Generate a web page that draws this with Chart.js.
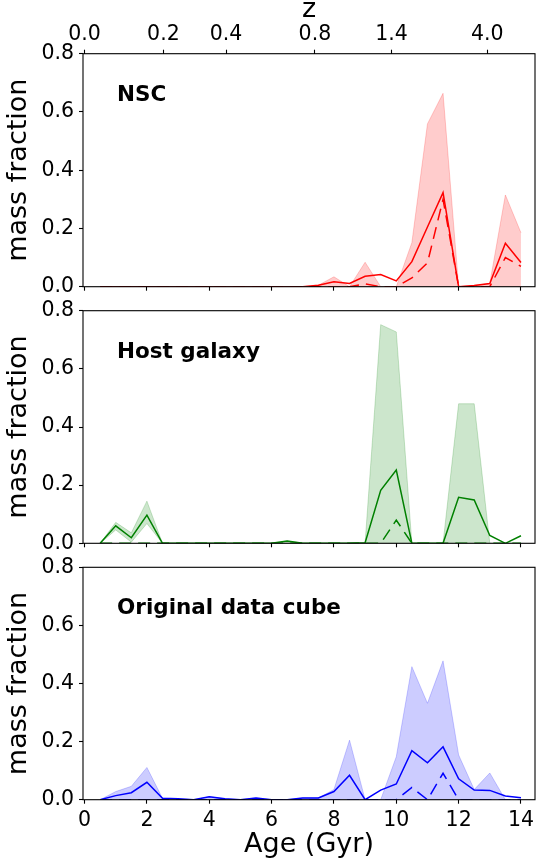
<!DOCTYPE html>
<html>
<head>
<meta charset="utf-8">
<script src="https://cdn.jsdelivr.net/npm/chart.js@4.4.0/dist/chart.umd.min.js"></script>
<style>
  html, body { margin: 0; padding: 0; background: #fff; }
  #wrap { position: relative; width: 536px; height: 865px; overflow: hidden; background: #fff; }
  canvas { position: absolute; left: 0; }
</style>
</head>
<body>
<div id="wrap">
  <canvas id="cNsc"></canvas>
  <canvas id="cHost"></canvas>
  <canvas id="cCube"></canvas>
</div>
<script>
// Stellar age bins (Gyr)
const ages = [0.5, 1.0, 1.5, 2.0, 2.5, 3.0, 3.5, 4.0, 4.5, 5.0, 5.5, 6.0, 6.5, 7.0,
              7.5, 8.0, 8.5, 9.0, 9.5, 10.0, 10.5, 11.0, 11.5, 12.0, 12.5, 13.0, 13.5, 14.0];

// Bottom axis ticks (Gyr), redshift ticks on the top axis, mass-fraction ticks
const ageTicks = [0, 2, 4, 6, 8, 10, 12, 14];
const zTickAges = [0, 2.53, 4.54, 7.39, 9.85, 12.92];
const zTickLabels = ['0.0', '0.2', '0.4', '0.8', '1.4', '4.0'];
const fracTicks = [0, 0.2, 0.4, 0.6, 0.8];

// NSC: best fit, second solution (dashed), and the spread band
const nscMain   = [0,0,0,0,0,0,0,0,0,0,0,0,0,0, 0.005,0.017,0.011,0.036,0.042,0.020,0.086,0.205,0.323,0,0.004,0.011,0.149,0.083];
const nscDashed = [0,0,0,0,0,0,0,0,0,0,0,0,0,0, 0,0,0,0.010,0,0,0.030,0.082,0.300,0,0,0,0.100,0.070];
const nscLow    = [0,0,0,0,0,0,0,0,0,0,0,0,0,0, 0,0,0,0,0,0,0,0,0,0,0,0,0,0];
const nscHigh   = [0,0,0,0,0,0,0,0,0,0,0,0,0,0, 0.005,0.034,0,0.084,0,0,0.151,0.559,0.664,0,0.004,0.011,0.315,0.185];

// Host galaxy
const hostMain   = [0,0.060,0.019,0.097,0,0,0,0,0,0,0,0,0.008,0, 0,0,0,0.002,0.182,0.252,0,0,0,0.158,0.149,0.027,0,0.026];
const hostDashed = [0,0,0,0,0,0,0,0,0,0,0,0,0,0, 0,0,0,0,0,0.080,0,0,0,0,0,0,0,0];
const hostLow    = [0,0.046,0.004,0.068,0,0,0,0,0,0,0,0,0,0, 0,0,0,0,0,0,0,0,0,0,0,0,0,0];
const hostHigh   = [0,0.072,0.036,0.145,0,0,0,0,0,0,0,0,0.008,0, 0,0,0,0.002,0.752,0.727,0,0,0,0.480,0.480,0,0,0];

// Original data cube
const cubeMain   = [0,0.014,0.024,0.060,0.005,0.003,0,0.010,0.003,0,0.006,0,0,0.006, 0.006,0.028,0.084,0,0.033,0.054,0.169,0.127,0.182,0.072,0.033,0.032,0.013,0.007];
const cubeDashed = [0,0,0,0,0,0,0,0,0,0,0,0,0,0, 0,0,0,0,0,0,0.042,0,0.091,0,0,0,0,0];
const cubeLow    = [0,0,0,0,0,0,0,0,0,0,0,0,0,0, 0,0,0,0,0,0,0,0,0,0,0,0,0,0];
const cubeHigh   = [0,0.028,0.046,0.111,0.005,0.003,0,0.010,0.003,0,0.006,0,0,0.006, 0.006,0.035,0.205,0,0,0.148,0.458,0.332,0.478,0.154,0.035,0.092,0,0];

const FONT = 'DejaVu Sans';
const X_MIN = -0.05, X_MAX = 14.45;
const Y_AXIS_W = 83;

function pts(vals) { return ages.map((a, i) => ({ x: a, y: vals[i] })); }

// Frame around the plot area plus the panel name in its upper-left corner
const panelDecor = {
  id: 'panelDecor',
  afterDraw(chart, args, opts) {
    const { ctx, chartArea: a } = chart;
    ctx.save();
    ctx.strokeStyle = '#000';
    ctx.lineWidth = 1.1;
    ctx.strokeRect(a.left, a.top, a.right - a.left, a.bottom - a.top);
    ctx.fillStyle = '#000';
    ctx.font = 'bold 21.5px "' + FONT + '"';
    ctx.textBaseline = 'alphabetic';
    ctx.textAlign = 'left';
    ctx.fillText(opts.label, a.left + 34, a.top + 47);
    ctx.restore();
  }
};

function makePanel(p) {
  const cv = document.getElementById(p.id);
  cv.width = 536;
  cv.height = p.h;
  cv.style.top = p.top + 'px';
  const areaTop = p.areaTop, areaBottom = p.areaBottom;

  const tickMarks = { display: true, drawOnChartArea: false, drawTicks: true, tickLength: 4, tickColor: '#000', tickWidth: 1.1 };

  const scales = {
    x: {
      type: 'linear', position: 'bottom', min: X_MIN, max: X_MAX,
      afterBuildTicks: s => { s.ticks = ageTicks.map(v => ({ value: v })); },
      afterFit: s => { s.height = p.h - areaBottom; },
      border: { display: false },
      grid: tickMarks,
      ticks: { display: p.showAgeLabels, autoSkip: false, maxRotation: 0, padding: 1, color: '#000',
               font: { family: FONT, size: 20.5, lineHeight: 1.59 }, callback: v => String(v) },
      title: { display: p.showAgeLabels, text: 'Age (Gyr)', color: '#000',
               font: { family: FONT, size: 27 }, padding: { top: 0, bottom: 4 } }
    },
    y: {
      type: 'linear', position: 'left', min: 0, max: 0.8,
      afterBuildTicks: s => { s.ticks = fracTicks.map(v => ({ value: v })); },
      afterFit: s => { s.width = Y_AXIS_W; },
      border: { display: false },
      grid: tickMarks,
      ticks: { autoSkip: false, padding: 5, color: '#000', font: { family: FONT, size: 20.5 },
               callback: v => v.toFixed(1) },
      title: { display: true, text: 'mass fraction', color: '#000',
               font: { family: FONT, size: 27 }, padding: { top: 2.5, bottom: 0 } }
    }
  };

  if (p.showRedshift) {
    scales.x2 = {
      type: 'linear', position: 'top', min: X_MIN, max: X_MAX,
      afterBuildTicks: s => { s.ticks = zTickAges.map(v => ({ value: v })); },
      afterFit: s => { s.height = areaTop; },
      border: { display: false },
      grid: tickMarks,
      ticks: { autoSkip: false, maxRotation: 0, padding: 3, color: '#000',
               font: { family: FONT, size: 20.5 }, callback: (v, i) => zTickLabels[i] },
      title: { display: true, text: 'z', color: '#000',
               font: { family: FONT, size: 27, lineHeight: 0.7 }, padding: { top: 0.5, bottom: 0 } }
    };
  }

  return new Chart(cv, {
    type: 'line',
    data: {
      datasets: [
        { data: pts(p.main), borderColor: p.color, borderWidth: 1.5, fill: false, order: 0 },
        { data: pts(p.dashed), borderColor: p.color, borderWidth: 1.5, borderDash: [12, 7], fill: false, order: 0 },
        { data: pts(p.low), borderColor: p.band, borderWidth: 1, fill: false, order: 1 },
        { data: pts(p.high), borderColor: p.band, borderWidth: 1, backgroundColor: p.band, fill: 2, order: 1 }
      ]
    },
    options: {
      responsive: false,
      animation: false,
      events: [],
      elements: { point: { radius: 0 }, line: { tension: 0 } },
      layout: { padding: { top: p.showRedshift ? 0 : areaTop, left: 0, right: 1, bottom: 0 } },
      plugins: { legend: { display: false }, tooltip: { enabled: false }, panelDecor: { label: p.label } },
      scales
    },
    plugins: [panelDecor]
  });
}

makePanel({ id: 'cNsc', top: 0, h: 312, areaTop: 53.7, areaBottom: 286.7,
  label: 'NSC', color: '#ff0000', band: 'rgba(255,0,0,0.2)',
  main: nscMain, dashed: nscDashed, low: nscLow, high: nscHigh,
  showRedshift: true, showAgeLabels: false });

makePanel({ id: 'cHost', top: 280, h: 290, areaTop: 30.7, areaBottom: 263.3,
  label: 'Host galaxy', color: '#008000', band: 'rgba(0,128,0,0.2)',
  main: hostMain, dashed: hostDashed, low: hostLow, high: hostHigh,
  showRedshift: false, showAgeLabels: false });

makePanel({ id: 'cCube', top: 537, h: 328, areaTop: 30.3, areaBottom: 262.7,
  label: 'Original data cube', color: '#0000ff', band: 'rgba(0,0,255,0.2)',
  main: cubeMain, dashed: cubeDashed, low: cubeLow, high: cubeHigh,
  showRedshift: false, showAgeLabels: true });
</script>
</body>
</html>
